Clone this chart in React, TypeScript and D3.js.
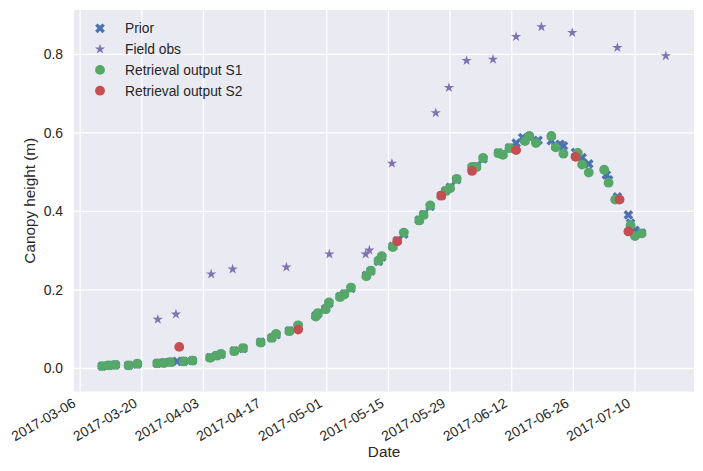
import React, { useEffect, useRef } from 'react';
import * as d3 from 'd3';

// values
const priorDates = [
  '2017-03-11', '2017-03-12T12', '2017-03-14', '2017-03-17', '2017-03-19',
  '2017-03-23T12', '2017-03-25', '2017-03-26T12', '2017-03-28', '2017-03-29T12',
  '2017-03-31T12', '2017-04-04T12', '2017-04-06', '2017-04-07', '2017-04-10',
  '2017-04-12', '2017-04-16', '2017-04-18T12', '2017-04-19T12', '2017-04-22T12',
  '2017-04-24T12', '2017-04-28T12', '2017-04-29', '2017-04-30T18', '2017-05-01T12',
  '2017-05-04', '2017-05-05', '2017-05-06T12', '2017-05-10', '2017-05-11',
  '2017-05-12T18', '2017-05-13T12', '2017-05-16', '2017-05-17', '2017-05-18T12',
  '2017-05-22', '2017-05-23', '2017-05-24T12', '2017-05-27', '2017-05-28',
  '2017-05-29', '2017-05-30T12', '2017-06-03', '2017-06-04', '2017-06-05T12',
  '2017-06-09', '2017-06-10', '2017-06-11T12', '2017-06-13', '2017-06-14T12',
  '2017-06-15', '2017-06-16', '2017-06-18', '2017-06-21', '2017-06-22',
  '2017-06-23', '2017-06-23T18', '2017-06-26T12', '2017-06-27', '2017-06-28',
  '2017-06-29T12', '2017-07-03T12', '2017-07-04', '2017-07-06', '2017-07-08T12',
  '2017-07-09', '2017-07-10', '2017-07-11T12',
];
const priorValues = [
  0.006, 0.008, 0.009, 0.008, 0.011,
  0.013, 0.015, 0.016, 0.018, 0.018,
  0.020, 0.028, 0.033, 0.036, 0.045,
  0.051, 0.067, 0.078, 0.086, 0.096,
  0.108, 0.134, 0.140, 0.152, 0.166,
  0.183, 0.190, 0.204, 0.237, 0.248,
  0.273, 0.284, 0.311, 0.325, 0.342,
  0.378, 0.392, 0.413, 0.440, 0.452,
  0.461, 0.481, 0.512, 0.514, 0.534,
  0.549, 0.546, 0.562, 0.574, 0.588,
  0.581, 0.590, 0.581, 0.580, 0.565,
  0.571, 0.567, 0.550, 0.545, 0.537,
  0.521, 0.493, 0.480, 0.437, 0.391,
  0.370, 0.352, 0.345,
];

const fieldDates = [
  '2017-03-23T15', '2017-03-27T18', '2017-04-04T18', '2017-04-09T15', '2017-04-21T20',
  '2017-05-01T14', '2017-05-09T20', '2017-05-10T16', '2017-05-15T19', '2017-05-25T18',
  '2017-05-28T18', '2017-06-01T18', '2017-06-07T18', '2017-06-13', '2017-06-18T18',
  '2017-06-25T18', '2017-07-06', '2017-07-17',
];
const fieldValues = [
  0.125, 0.138, 0.240, 0.253, 0.258,
  0.291, 0.291, 0.301, 0.522, 0.651,
  0.715, 0.784, 0.787, 0.845, 0.870,
  0.855, 0.817, 0.796,
];

const s1Dates = [
  '2017-03-11', '2017-03-12T12', '2017-03-14', '2017-03-17', '2017-03-19',
  '2017-03-23T12', '2017-03-25', '2017-03-26T12', '2017-03-29T12', '2017-03-31T12',
  '2017-04-04T12', '2017-04-06', '2017-04-07', '2017-04-10', '2017-04-12',
  '2017-04-16', '2017-04-18T12', '2017-04-19T12', '2017-04-22T12', '2017-04-24T12',
  '2017-04-28T12', '2017-04-29', '2017-04-30T18', '2017-05-01T12', '2017-05-04',
  '2017-05-05', '2017-05-06T12', '2017-05-10', '2017-05-11', '2017-05-12T18',
  '2017-05-13T12', '2017-05-16', '2017-05-18T12', '2017-05-22', '2017-05-23',
  '2017-05-24T12', '2017-05-28', '2017-05-29', '2017-05-30T12', '2017-06-03',
  '2017-06-04', '2017-06-05T12', '2017-06-09', '2017-06-10', '2017-06-11T12',
  '2017-06-15', '2017-06-16', '2017-06-17T12', '2017-06-21', '2017-06-22',
  '2017-06-23T18', '2017-06-27', '2017-06-28', '2017-06-29T12', '2017-07-03',
  '2017-07-04', '2017-07-05T12', '2017-07-09', '2017-07-10', '2017-07-11T12',
];
const s1Values = [
  0.006, 0.008, 0.009, 0.008, 0.012,
  0.013, 0.014, 0.016, 0.018, 0.020,
  0.027, 0.033, 0.037, 0.044, 0.052,
  0.066, 0.078, 0.088, 0.095, 0.110,
  0.132, 0.141, 0.151, 0.168, 0.182,
  0.189, 0.206, 0.235, 0.249, 0.275,
  0.286, 0.309, 0.346, 0.377, 0.391,
  0.415, 0.452, 0.459, 0.483, 0.513,
  0.513, 0.536, 0.548, 0.544, 0.561,
  0.579, 0.592, 0.574, 0.592, 0.563,
  0.547, 0.549, 0.519, 0.499, 0.506,
  0.473, 0.430, 0.365, 0.337, 0.344,
];

const s2Dates = [
  '2017-03-28T12', '2017-04-24T12', '2017-05-17', '2017-05-27', '2017-06-03',
  '2017-06-13', '2017-06-26T12', '2017-07-06T12', '2017-07-08T12',
];
const s2Values = [0.055, 0.099, 0.324, 0.440, 0.503, 0.556, 0.539, 0.430, 0.349];

const xTickLabels = [
  '2017-03-06', '2017-03-20', '2017-04-03', '2017-04-17', '2017-05-01',
  '2017-05-15', '2017-05-29', '2017-06-12', '2017-06-26', '2017-07-10',
];
const yTickValues = [0.0, 0.2, 0.4, 0.6, 0.8];
const yLimits = [-0.0586, 0.9128];

const width = 703;
const height = 471;
const plot = { left: 74, right: 694, top: 10, bottom: 391.5 };
const font = '"Liberation Sans", Arial, "DejaVu Sans", sans-serif';
const textColor = '#262626';
const dotRadius = 4.9;

const parseDate = (s: string) =>
  d3.utcParse(s.length > 10 ? '%Y-%m-%dT%H' : '%Y-%m-%d')(s) as Date;

type Pt = { date: Date; value: number };
const toPoints = (dates: string[], values: number[]): Pt[] =>
  dates.map((d, i) => ({ date: parseDate(d), value: values[i] }));

// matplotlib's filled 'X' marker
const xMarker = (size: number) => {
  const pts = [
    [-1, -3], [-1, -1], [-3, -1], [-3, 1], [-1, 1], [-1, 3],
    [1, 3], [1, 1], [3, 1], [3, -1], [1, -1], [1, -3],
  ];
  const c = Math.SQRT1_2;
  const rot = pts.map(([x, y]) => {
    const px = (x / 6) * size;
    const py = (y / 6) * size;
    return [c * (px - py), c * (px + py)];
  });
  return 'M' + rot.map((p) => p.map((v) => v.toFixed(2)).join(',')).join('L') + 'Z';
};

const starPath = d3.symbol(d3.symbolStar, 33)() as string;

const drawChart = (el: SVGSVGElement) => {
  const svg = d3.select(el);
  svg.selectAll('*').remove();

  const prior = toPoints(priorDates, priorValues);
  const field = toPoints(fieldDates, fieldValues);
  const s1 = toPoints(s1Dates, s1Values);
  const s2 = toPoints(s2Dates, s2Values);

  const all = [...prior, ...field, ...s1, ...s2];
  const [xMin, xMax] = d3.extent(all, (d) => +d.date) as [number, number];
  const pad = (xMax - xMin) * 0.05;

  const xScale = d3
    .scaleUtc()
    .domain([new Date(xMin - pad), new Date(xMax + pad)])
    .range([plot.left, plot.right]);
  const yScale = d3.scaleLinear().domain(yLimits).range([plot.bottom, plot.top]);

  svg
    .append('rect')
    .attr('x', plot.left)
    .attr('y', plot.top)
    .attr('width', plot.right - plot.left)
    .attr('height', plot.bottom - plot.top)
    .attr('fill', '#EAEAF2');

  const xTicks = xTickLabels.map(parseDate);
  const grid = svg.append('g').attr('stroke', '#ffffff').attr('stroke-width', 1.3);
  grid
    .selectAll('.vgrid')
    .data(xTicks)
    .enter()
    .append('line')
    .attr('x1', (d) => xScale(d))
    .attr('x2', (d) => xScale(d))
    .attr('y1', plot.top)
    .attr('y2', plot.bottom);
  grid
    .selectAll('.hgrid')
    .data(yTickValues)
    .enter()
    .append('line')
    .attr('x1', plot.left)
    .attr('x2', plot.right)
    .attr('y1', (d) => yScale(d))
    .attr('y2', (d) => yScale(d));

  const xAxis = d3
    .axisBottom<Date>(xScale)
    .tickValues(xTicks)
    .tickSize(0)
    .tickFormat(d3.utcFormat('%Y-%m-%d'));
  const xg = svg
    .append('g')
    .attr('transform', `translate(0,${plot.bottom})`)
    .call(xAxis);
  xg.select('.domain').remove();
  xg.selectAll('text')
    .attr('x', 0)
    .attr('y', 0)
    .attr('dy', 0)
    .attr('transform', 'translate(-4,14.5) rotate(-30)')
    .attr('text-anchor', 'end')
    .attr('fill', textColor)
    .style('font-family', font)
    .style('font-size', '13.9px');

  const yAxis = d3
    .axisLeft(yScale)
    .tickValues(yTickValues)
    .tickSize(0)
    .tickPadding(11)
    .tickFormat(d3.format('.1f'));
  const yg = svg.append('g').attr('transform', `translate(${plot.left},0)`).call(yAxis);
  yg.select('.domain').remove();
  yg.selectAll('text')
    .attr('fill', textColor)
    .style('font-family', font)
    .style('font-size', '13.9px');

  svg
    .append('text')
    .attr('x', (plot.left + plot.right) / 2)
    .attr('y', 457)
    .attr('text-anchor', 'middle')
    .attr('fill', textColor)
    .style('font-family', font)
    .style('font-size', '15.3px')
    .text('Date');
  svg
    .append('text')
    .attr('transform', `translate(35,${(plot.top + plot.bottom) / 2}) rotate(-90)`)
    .attr('text-anchor', 'middle')
    .attr('fill', textColor)
    .style('font-family', font)
    .style('font-size', '15.3px')
    .text('Canopy height (m)');

  const marks = svg.append('g');
  const xPath = xMarker(10.3);

  marks
    .selectAll('.prior')
    .data(prior)
    .enter()
    .append('path')
    .attr('d', xPath)
    .attr('fill', '#4C72B0')
    .attr('transform', (d) => `translate(${xScale(d.date)},${yScale(d.value)})`);
  marks
    .selectAll('.field')
    .data(field)
    .enter()
    .append('path')
    .attr('d', starPath)
    .attr('fill', '#8172B2')
    .attr('transform', (d) => `translate(${xScale(d.date)},${yScale(d.value)})`);
  marks
    .selectAll('.s1')
    .data(s1)
    .enter()
    .append('circle')
    .attr('cx', (d) => xScale(d.date))
    .attr('cy', (d) => yScale(d.value))
    .attr('r', dotRadius)
    .attr('fill', '#55A868');
  marks
    .selectAll('.s2')
    .data(s2)
    .enter()
    .append('circle')
    .attr('cx', (d) => xScale(d.date))
    .attr('cy', (d) => yScale(d.value))
    .attr('r', dotRadius)
    .attr('fill', '#C44E52');

  const legendItems = [
    { label: 'Prior', kind: 'x', color: '#4C72B0' },
    { label: 'Field obs', kind: 'star', color: '#8172B2' },
    { label: 'Retrieval output S1', kind: 'circle', color: '#55A868' },
    { label: 'Retrieval output S2', kind: 'circle', color: '#C44E52' },
  ];
  const legend = svg.append('g');
  legendItems.forEach((item, i) => {
    const y = 28.3 + i * 20.8;
    if (item.kind === 'circle') {
      legend.append('circle').attr('cx', 100).attr('cy', y).attr('r', dotRadius).attr('fill', item.color);
    } else {
      legend
        .append('path')
        .attr('d', item.kind === 'x' ? xPath : starPath)
        .attr('fill', item.color)
        .attr('transform', `translate(100,${y})`);
    }
    legend
      .append('text')
      .attr('x', 125)
      .attr('y', y + 5)
      .attr('fill', textColor)
      .style('font-family', font)
      .style('font-size', '13.8px')
      .text(item.label);
  });
};

export default function App() {
  const ref = useRef<SVGSVGElement>(null);

  useEffect(() => {
    if (ref.current) drawChart(ref.current);
  }, []);

  return (
    <svg
      ref={ref}
      width={width}
      height={height}
      style={{ position: 'absolute', left: 0, top: 0, background: '#ffffff' }}
    />
  );
}
